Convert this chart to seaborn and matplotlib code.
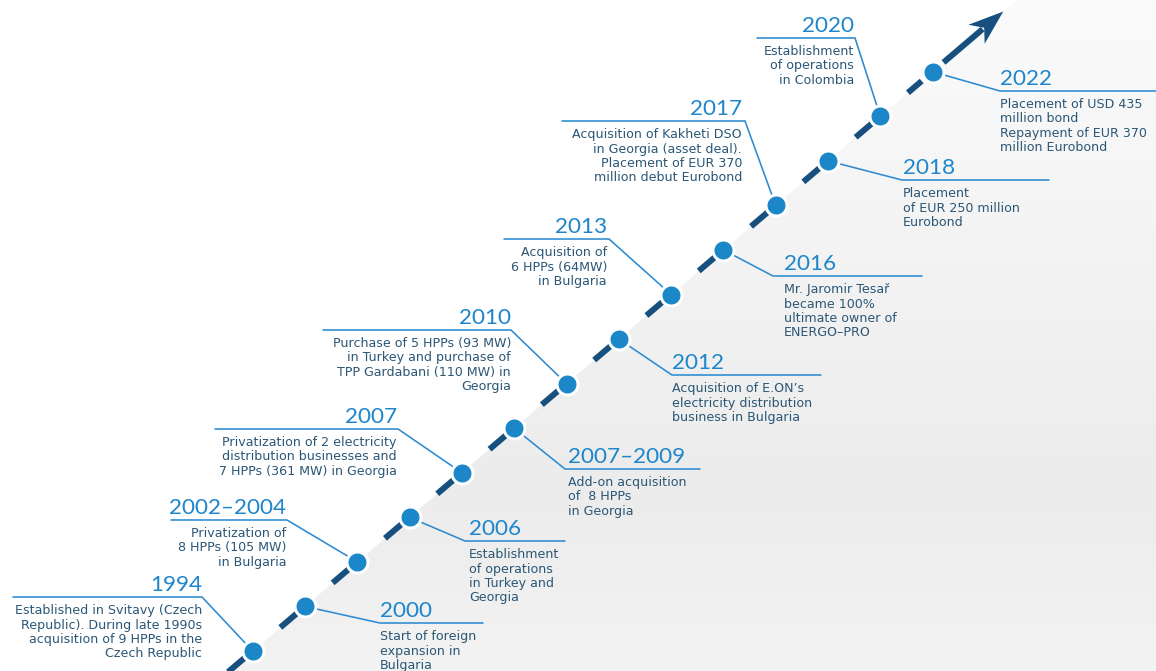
import numpy as np
import pandas as pd
import matplotlib
matplotlib.use("Agg")
import matplotlib.pyplot as plt
import seaborn as sns
from matplotlib.colors import LinearSegmentedColormap
from matplotlib.patches import Polygon

# %% data
years = ["1994", "2000", "2002–2004", "2006", "2007", "2007–2009", "2010",
         "2012", "2013", "2016", "2017", "2018", "2020", "2022"]
descriptions = [
    ["Established in Svitavy (Czech", "Republic). During late 1990s",
     "acquisition of 9 HPPs in the", "Czech Republic"],
    ["Start of foreign", "expansion in", "Bulgaria"],
    ["Privatization of", "8 HPPs (105 MW)", "in Bulgaria"],
    ["Establishment", "of operations", "in Turkey and", "Georgia"],
    ["Privatization of 2 electricity", "distribution businesses and",
     "7 HPPs (361 MW) in Georgia"],
    ["Add-on acquisition", "of  8 HPPs", "in Georgia"],
    ["Purchase of 5 HPPs (93 MW)", "in Turkey and purchase of",
     "TPP Gardabani (110 MW) in", "Georgia"],
    ["Acquisition of E.ON’s", "electricity distribution", "business in Bulgaria"],
    ["Acquisition of", "6 HPPs (64MW)", "in Bulgaria"],
    ["Mr. Jaromir Tesa\u0159", "became 100%", "ultimate owner of", "ENERGO–PRO"],
    ["Acquisition of Kakheti DSO", "in Georgia (asset deal).",
     "Placement of EUR 370", "million debut Eurobond"],
    ["Placement", "of EUR 250 million", "Eurobond"],
    ["Establishment", "of operations", "in Colombia"],
    ["Placement of USD 435", "million bond", "Repayment of EUR 370",
     "million Eurobond"],
]
sides = ["left", "right"] * 7

# %% layout (pixel space of the 1156x671 canvas)
W, H = 1156, 671
start = np.array([252.7, 651.0])   # first dot
step = np.array([52.3, -44.56])    # distance between dots along the line
elbow_x = [202, 380, 287, 465, 398, 565, 511, 672, 609, 773, 745, 902, 855, 1000]
line_y = [597, 623, 520, 541, 429, 469, 330, 375, 239, 276, 121, 180, 38, 91]
far_x = [13, 483, 171, 565, 215, 700, 323, 821, 504, 922, 562, 1049, 757, 1156]
text_x = [202, 380, 286, 469, 397, 568, 511, 672, 607, 784, 742, 903, 854, 1000]

LINE_C = "#17507f"
DOT_C = "#1b87c9"
CONN_C = "#2c8bd2"
YEAR_C = "#1e86cc"
BODY_C = "#2b5776"
px = 0.72  # points per pixel at dpi 100

sns.set_theme(style="white")
plt.rcParams["font.family"] = ["Lato", "DejaVu Sans"]
BODY_FONT = ["DejaVu Sans"]

fig = plt.figure(figsize=(W / 100, H / 100), dpi=100)
ax = fig.add_axes([0, 0, 1, 1])
ax.set_xlim(0, W)
ax.set_ylim(H, 0)
ax.axis("off")


def along(t):
    return start + t * step


# %% grey gradient below the timeline
grad = np.interp(np.linspace(0, H, 300), [0, 120, 490, 671], [0.0, 0.25, 1.0, 0.55])
cmap = LinearSegmentedColormap.from_list("bg", ["#fbfbfb", "#ececec"])
img = ax.imshow(grad[:, None], extent=[0, W, H, 0], cmap=cmap, vmin=0, vmax=1,
                aspect="auto", zorder=0, interpolation="bilinear")
p0, p1 = along(-2), along(17)
clip = Polygon([p0, p1, (W + 50, p1[1]), (W + 50, H + 50), (p0[0], H + 50)],
               closed=True, transform=ax.transData, facecolor="none", edgecolor="none")
ax.add_patch(clip)
img.set_clip_path(clip)

# %% dashed timeline (one dash between each pair of dots) + arrow head
seg_len = np.linalg.norm(step)
lw_px = 6.0
dash_px = 40.0
gap_px = seg_len - dash_px
half_gap = gap_px / 2 / seg_len
a, b = along(-1 + half_gap), along(13 - half_gap)
ax.plot([a[0], b[0]], [a[1], b[1]], color=LINE_C, lw=lw_px * px,
        dashes=(dash_px / lw_px, gap_px / lw_px), solid_capstyle="butt", zorder=2)
u = step / seg_len
n = np.array([-u[1], u[0]])
tip = along(14.35)
base = tip - u * 31
c0 = along(13 + half_gap)
ax.plot([c0[0], base[0] + u[0] * 4], [c0[1], base[1] + u[1] * 4], color=LINE_C,
        lw=lw_px * px, solid_capstyle="butt", zorder=2)
head = [tip, base + n * 12.5 - u * 4, base + u * 6, base - n * 12.5 - u * 4]
ax.add_patch(Polygon(head, closed=True, facecolor=LINE_C, edgecolor="none", zorder=3))

# %% connectors and labels
df = pd.DataFrame({"year": years, "side": sides, "order": range(len(years))})
df["x"] = start[0] + df["order"] * step[0]
df["y"] = start[1] + df["order"] * step[1]

for i, row in df.iterrows():
    ex, ly, fx, tx = elbow_x[i], line_y[i], far_x[i], text_x[i]
    ax.plot([row["x"], ex, fx], [row["y"], ly, ly], color=CONN_C,
            lw=1.6 * px, zorder=1, solid_joinstyle="miter")
    ha = "right" if row["side"] == "left" else "left"
    ax.text(tx, ly - 6, row["year"], ha=ha, va="baseline", color=YEAR_C,
            fontsize=22.5 * px, zorder=4)
    for j, line in enumerate(descriptions[i]):
        ax.text(tx, ly + 17.3 + j * 14.2, line, ha=ha, va="baseline",
                color=BODY_C, fontsize=12.6 * px, family=BODY_FONT, zorder=4)

sns.scatterplot(data=df, x="x", y="y", s=(21 * px) ** 2, color=DOT_C,
                edgecolor="white", linewidth=3 * px, zorder=5, ax=ax, legend=False)
ax.set_xlim(0, W)
ax.set_ylim(H, 0)
ax.axis("off")

fig.savefig("out.png", dpi=100)
